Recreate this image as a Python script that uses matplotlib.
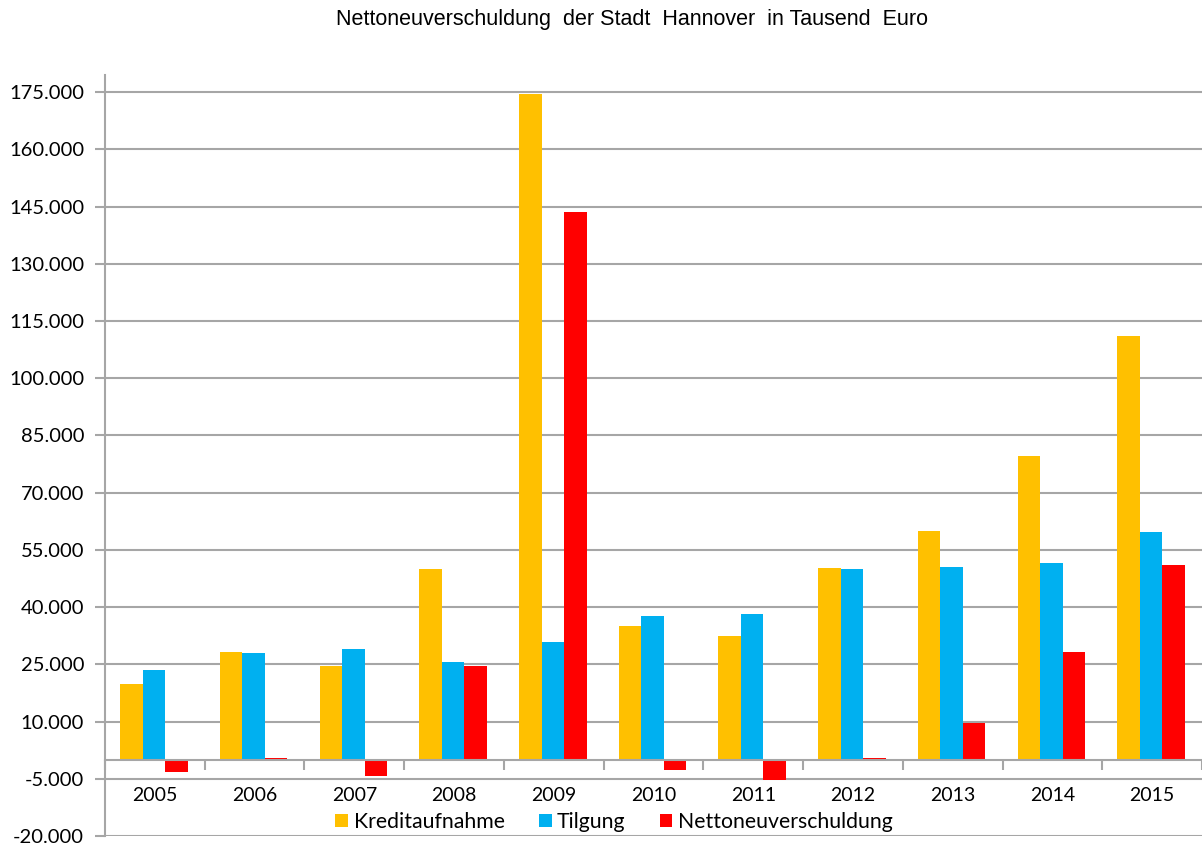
import matplotlib
matplotlib.use("Agg")
import matplotlib.pyplot as plt
from matplotlib.ticker import FixedLocator, FuncFormatter
import numpy as np

years = ["2005", "2006", "2007", "2008", "2009", "2010", "2011", "2012", "2013", "2014", "2015"]
kreditaufnahme = [19900, 28200, 24500, 50000, 174500, 35000, 32500, 50300, 59900, 79700, 111100]
tilgung = [23400, 28000, 29100, 25600, 30900, 37800, 38100, 49900, 50400, 51500, 59600]
netto = [-3300, 400, -4400, 24500, 143600, -2700, -5300, 400, 9700, 28200, 51100]
series_names = ["Kreditaufnahme", "Tilgung", "Nettoneuverschuldung"]
colors = ["#FFC000", "#00B0F0", "#FF0000"]
yticks = list(range(-20000, 175001, 15000))
title = "Nettoneuverschuldung  der Stadt  Hannover  in Tausend  Euro"

fig = plt.figure(figsize=(12.02, 8.5), dpi=100)
ax = fig.add_axes([105/1202, 1 - 836/850, 1 - 105/1202, (836 - 75)/850])

x = np.arange(len(years))
w = 0.226
for i, (vals, name, c) in enumerate(zip([kreditaufnahme, tilgung, netto], series_names, colors)):
    ax.bar(x + (i - 1) * w - 0.01, vals, width=w, color=c, label=name, zorder=3)

ax.set_xlim(-0.5, len(years) - 0.5)
ax.set_ylim(-20000, 179500)

grid_c = "#A6A6A6"
ax.yaxis.set_major_locator(FixedLocator(yticks))
ax.yaxis.set_major_formatter(FuncFormatter(lambda v, p: f"{v:,.0f}".replace(",", ".")))
ax.grid(axis="y", color=grid_c, linewidth=1.5, zorder=0)
ax.set_axisbelow(True)

for s in ["top", "right"]:
    ax.spines[s].set_visible(False)
ax.spines["left"].set_color(grid_c)
ax.spines["left"].set_linewidth(1.5)
ax.spines["bottom"].set_position(("data", 0))
ax.spines["bottom"].set_color(grid_c)
ax.spines["bottom"].set_linewidth(1.5)
ax.spines["bottom"].set_zorder(4)

ax.set_xticks(x)
ax.set_xticklabels(years)
ax.set_xticks(np.arange(-0.5, len(years)), minor=True)
ax.tick_params(axis="x", which="major", length=0, pad=20, labelsize=14)
ax.tick_params(axis="x", which="minor", length=7, width=1.5, color=grid_c, direction="out")
ax.tick_params(axis="y", length=7, width=1.5, color=grid_c, labelsize=14.5, pad=8)
for lbl in ax.get_xticklabels() + ax.get_yticklabels():
    lbl.set_fontfamily("Lato")

fig.text(632/1202, 1 - 20/850, title, ha="center", va="center", fontsize=15.5, family="Liberation Sans")

leg = ax.legend(loc="center", bbox_to_anchor=(614/1202, 1 - 822/850), bbox_transform=fig.transFigure,
                ncol=3, frameon=False, prop={"family": "Lato", "size": 15.3},
                handlelength=0.61, handleheight=0.61, handletextpad=0.25, columnspacing=1.6)

fig.savefig("out.png", dpi=100)
